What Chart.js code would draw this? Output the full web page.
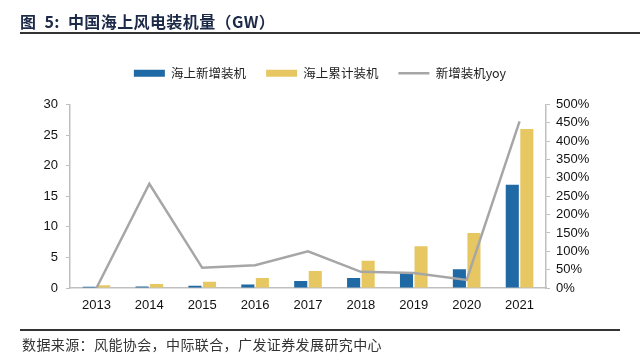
<!DOCTYPE html>
<html><head><meta charset="utf-8">
<script src="https://cdn.jsdelivr.net/npm/chart.js@4/dist/chart.umd.min.js"></script>
<style>
html,body{margin:0;padding:0;background:#fff;width:640px;height:357px;overflow:hidden;}
#title{position:absolute;left:20px;top:9px;font-family:"Noto Sans CJK SC","Noto Sans",sans-serif;font-weight:bold;font-size:16px;color:#1c2a48;white-space:pre;line-height:24px;letter-spacing:0.4px;}
#tline{position:absolute;left:20px;top:32px;width:620px;height:2px;background:#333;}
#bline{position:absolute;left:20px;top:329px;width:600px;height:2px;background:#333;}
#src{position:absolute;left:22px;top:334px;font-family:"Noto Sans CJK SC",sans-serif;font-size:14px;color:#333;letter-spacing:0.4px;line-height:20px;white-space:pre;}
#wrap{position:absolute;left:0;top:0;width:640px;height:357px;}
</style></head>
<body>
<div id="wrap"><canvas id="c" width="640" height="357"></canvas></div>
<div id="title">图  5:  中国海上风电装机量（GW）</div>
<div id="tline"></div>
<div id="bline"></div>
<div id="src">数据来源：风能协会，中际联合，广发证券发展研究中心</div>
<script>
const categories = ['2013','2014','2015','2016','2017','2018','2019','2020','2021'];
const newInstalled = [0.2, 0.23, 0.36, 0.59, 1.16, 1.65, 2.49, 3.06, 16.9];
const cumulative = [0.43, 0.66, 1.02, 1.63, 2.79, 4.44, 6.84, 9.0, 26.0];
const newYoy = [0, 284, 55, 62, 100, 44, 41, 22, 454];
const seriesNames = ['海上新增装机', '海上累计装机', '新增装机yoy'];
const leftTicks = [0,5,10,15,20,25,30];
const rightTicks = [0,50,100,150,200,250,300,350,400,450,500];

const tickFont = {family: 'Arial, "Liberation Sans", sans-serif', size: 13};
const legendMargin = {
  id: 'legendMargin',
  beforeInit(chart) {
    const orig = chart.legend.fit;
    chart.legend.fit = function() { orig.bind(this)(); this.height += 15; };
  }
};

new Chart(document.getElementById('c'), {
  data: {
    labels: categories,
    datasets: [
      {type: 'line', label: seriesNames[2], data: newYoy, yAxisID: 'y1', borderColor: '#a6a6a6', backgroundColor: '#a6a6a6', borderWidth: 2.5, pointRadius: 0, tension: 0, order: 0},
      {type: 'bar', label: seriesNames[0], data: newInstalled, yAxisID: 'y', backgroundColor: '#1f69a4', categoryPercentage: 0.55, barPercentage: 0.9, order: 1},
      {type: 'bar', label: seriesNames[1], data: cumulative, yAxisID: 'y', backgroundColor: '#e7c762', categoryPercentage: 0.55, barPercentage: 0.9, order: 1}
    ]
  },
  options: {
    responsive: false,
    animation: false,
    layout: {padding: {top: 47, left: 0, right: 0, bottom: 0}},
    plugins: {
      tooltip: {enabled: false},
      legend: {
        position: 'top',
        labels: {
          usePointStyle: true,
          pointStyleWidth: 31,
          boxHeight: 7,
          padding: 20,
          color: '#222',
          font: {family: '"Noto Sans CJK SC", sans-serif', size: 12.5},
          sort: (a, b) => {
            const order = [1, 2, 0];
            return order.indexOf(a.datasetIndex) - order.indexOf(b.datasetIndex);
          },
          generateLabels(chart) {
            const items = Chart.defaults.plugins.legend.labels.generateLabels(chart);
            items.forEach(it => {
              if (it.datasetIndex === 0) { it.pointStyle = 'line'; it.lineWidth = 2.5; it.strokeStyle = '#a6a6a6'; }
              else { it.pointStyle = 'rect'; it.lineWidth = 0; }
            });
            return items;
          }
        }
      }
    },
    scales: {
      x: {
        grid: {display: false, drawTicks: false},
        border: {color: '#bfbfbf', width: 1.5},
        ticks: {font: tickFont, color: '#111', padding: 10, maxRotation: 0, autoSkip: false},
        afterFit(s) { s.height = 69; }
      },
      y: {
        position: 'left', min: 0, max: 30,
        afterBuildTicks(s) { s.ticks = leftTicks.map(v => ({value: v})); },
        grid: {drawOnChartArea: false, drawTicks: true, tickLength: 4, color: '#bfbfbf'},
        border: {color: '#bfbfbf', width: 1.5},
        ticks: {font: tickFont, color: '#111', padding: 8, autoSkip: false},
        afterFit(s) { s.width = 70; }
      },
      y1: {
        position: 'right', min: 0, max: 500,
        afterBuildTicks(s) { s.ticks = rightTicks.map(v => ({value: v})); },
        grid: {drawOnChartArea: false, drawTicks: true, tickLength: 4, color: '#bfbfbf'},
        border: {color: '#bfbfbf', width: 1.5},
        ticks: {font: tickFont, color: '#111', padding: 6, autoSkip: false, callback: v => v + '%'},
        afterFit(s) { s.width = 94; }
      }
    }
  },
  plugins: [legendMargin]
});
</script>
</body></html>
